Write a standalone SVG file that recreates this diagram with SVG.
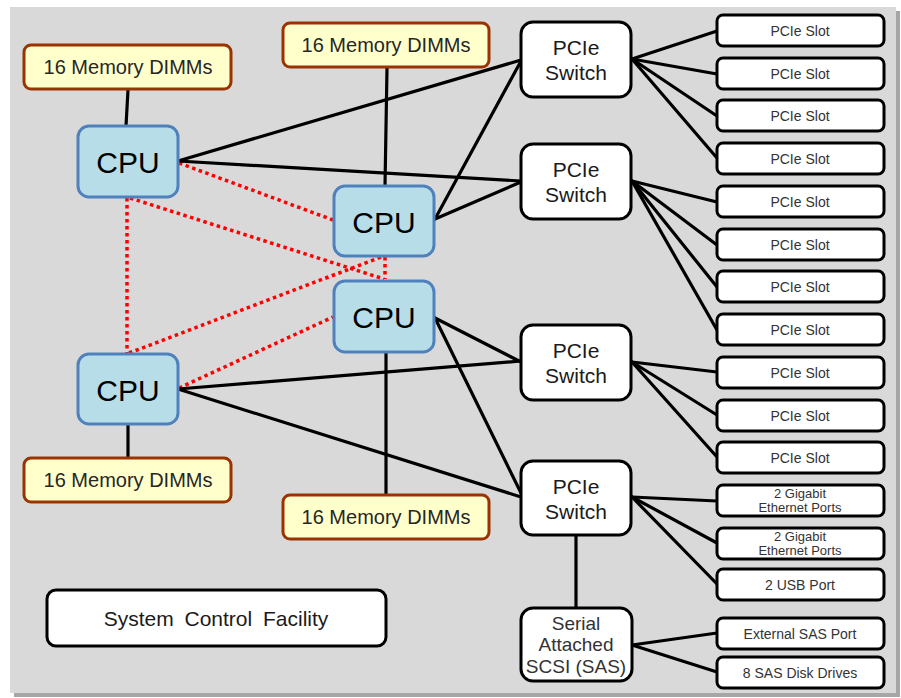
<svg xmlns="http://www.w3.org/2000/svg" width="901" height="698" viewBox="0 0 901 698">
<style>
.cpu rect{fill:#b7dde8;stroke:#4f81bd;stroke-width:3}
.cpu text{font-family:"Liberation Sans",Arial,sans-serif;font-size:30px;fill:#000;text-anchor:middle}
.dimm rect{fill:#ffffcc;stroke:#993300;stroke-width:3}
.dimm text{font-family:"Liberation Sans",Arial,sans-serif;font-size:20px;fill:#262626;text-anchor:middle}
.sw rect{fill:#fff;stroke:#000;stroke-width:3}
.sw text{font-family:"Liberation Sans",Arial,sans-serif;font-size:21px;fill:#1a1a1a;text-anchor:middle}
.slot rect{fill:#fff;stroke:#000;stroke-width:3}
.slot text{font-family:"Liberation Sans",Arial,sans-serif;font-size:14px;fill:#333;text-anchor:middle}
.slot text.sm{font-size:13px}
.scf rect{fill:#fff;stroke:#000;stroke-width:3}
.scf text{font-family:"Liberation Sans",Arial,sans-serif;font-size:21px;fill:#1a1a1a;text-anchor:middle;word-spacing:5px}
.sas rect{fill:#fff;stroke:#000;stroke-width:3}
.sas text{font-family:"Liberation Sans",Arial,sans-serif;font-size:19px;fill:#333;text-anchor:middle}
.bl line{stroke:#000;stroke-width:3.2;stroke-linecap:round}
.rd line{stroke:#ff0000;stroke-width:3.5;stroke-dasharray:3.5 3.5}
</style>
<rect x="14" y="11" width="886" height="686" fill="#a6a6a6"/>
<rect x="10" y="7" width="886" height="686" fill="#d9d9d9"/>
<g id="connectors">
 <g class="rd">
  <line x1="179" y1="163" x2="333" y2="220"/>
  <line x1="127" y1="198" x2="127" y2="353"/>
  <line x1="130" y1="198" x2="384" y2="279"/>
  <line x1="129" y1="353" x2="381" y2="257"/>
  <line x1="385" y1="257" x2="385" y2="279"/>
  <line x1="179" y1="388" x2="333" y2="317"/>
 </g>
 <g class="bl">
  <line x1="128" y1="90" x2="126" y2="126"/>
  <line x1="387" y1="68" x2="385" y2="186"/>
  <line x1="386" y1="353" x2="386" y2="494"/>
  <line x1="128" y1="424" x2="128" y2="458"/>
  <line x1="178" y1="161" x2="521" y2="60"/>
  <line x1="178" y1="161" x2="521" y2="181"/>
  <line x1="435" y1="219" x2="521" y2="61"/>
  <line x1="435" y1="219" x2="521" y2="182"/>
  <line x1="435" y1="318" x2="521" y2="362"/>
  <line x1="435" y1="318" x2="521" y2="493"/>
  <line x1="178" y1="389" x2="521" y2="361"/>
  <line x1="178" y1="389" x2="521" y2="497"/>
  <line x1="632" y1="59" x2="717" y2="31"/>
  <line x1="632" y1="59" x2="717" y2="74"/>
  <line x1="632" y1="59" x2="717" y2="116"/>
  <line x1="632" y1="59" x2="717" y2="158"/>
  <line x1="632" y1="181" x2="717" y2="202"/>
  <line x1="632" y1="181" x2="717" y2="245"/>
  <line x1="632" y1="181" x2="717" y2="287"/>
  <line x1="632" y1="181" x2="717" y2="330"/>
  <line x1="632" y1="362" x2="717" y2="372"/>
  <line x1="632" y1="362" x2="717" y2="415"/>
  <line x1="632" y1="362" x2="717" y2="457"/>
  <line x1="632" y1="497" x2="717" y2="501"/>
  <line x1="632" y1="497" x2="717" y2="543"/>
  <line x1="632" y1="497" x2="717" y2="584"/>
  <line x1="576" y1="535" x2="576" y2="608"/>
  <line x1="632" y1="645" x2="717" y2="633"/>
  <line x1="632" y1="645" x2="717" y2="672"/>
 </g>
</g>
<g id="dimm1" class="dimm"><rect x="24" y="45" width="207" height="44" rx="7"/><text x="128" y="74">16 Memory DIMMs</text></g>
<g id="dimm2" class="dimm"><rect x="283" y="23" width="206" height="44" rx="7"/><text x="386" y="52">16 Memory DIMMs</text></g>
<g id="dimm3" class="dimm"><rect x="24" y="458" width="207" height="44" rx="7"/><text x="128" y="487">16 Memory DIMMs</text></g>
<g id="dimm4" class="dimm"><rect x="283" y="495" width="206" height="44" rx="7"/><text x="386" y="524">16 Memory DIMMs</text></g>
<g id="cpu1" class="cpu"><rect x="78" y="126" width="100" height="71" rx="11"/><text x="128" y="173">CPU</text></g>
<g id="cpu2" class="cpu"><rect x="334" y="186" width="100" height="70" rx="11"/><text x="384" y="233">CPU</text></g>
<g id="cpu3" class="cpu"><rect x="334" y="281" width="100" height="71" rx="11"/><text x="384" y="328">CPU</text></g>
<g id="cpu4" class="cpu"><rect x="78" y="354" width="100" height="70" rx="11"/><text x="128" y="401">CPU</text></g>
<g id="sw1" class="sw"><rect x="521" y="22" width="110" height="75" rx="12"/><text x="576" y="55">PCIe</text><text x="576" y="80">Switch</text></g>
<g id="sw2" class="sw"><rect x="521" y="144" width="110" height="75" rx="12"/><text x="576" y="177">PCIe</text><text x="576" y="202">Switch</text></g>
<g id="sw3" class="sw"><rect x="521" y="325" width="110" height="75" rx="12"/><text x="576" y="358">PCIe</text><text x="576" y="383">Switch</text></g>
<g id="sw4" class="sw"><rect x="521" y="461" width="110" height="74" rx="12"/><text x="576" y="494">PCIe</text><text x="576" y="519">Switch</text></g>
<g id="sas" class="sas"><rect x="521" y="608" width="111" height="73" rx="12"/><text x="576" y="630">Serial</text><text x="576" y="651">Attached</text><text x="576" y="673">SCSI (SAS)</text></g>
<g id="scf" class="scf"><rect x="47" y="590" width="339" height="56" rx="9"/><text x="216" y="626">System Control Facility</text></g>
<g id="slot1" class="slot"><rect x="717" y="15" width="167" height="31" rx="6"/><text x="800" y="36">PCIe Slot</text></g>
<g id="slot2" class="slot"><rect x="717" y="58" width="167" height="31" rx="6"/><text x="800" y="79">PCIe Slot</text></g>
<g id="slot3" class="slot"><rect x="717" y="100" width="167" height="31" rx="6"/><text x="800" y="121">PCIe Slot</text></g>
<g id="slot4" class="slot"><rect x="717" y="143" width="167" height="31" rx="6"/><text x="800" y="164">PCIe Slot</text></g>
<g id="slot5" class="slot"><rect x="717" y="186" width="167" height="31" rx="6"/><text x="800" y="207">PCIe Slot</text></g>
<g id="slot6" class="slot"><rect x="717" y="229" width="167" height="31" rx="6"/><text x="800" y="250">PCIe Slot</text></g>
<g id="slot7" class="slot"><rect x="717" y="271" width="167" height="31" rx="6"/><text x="800" y="292">PCIe Slot</text></g>
<g id="slot8" class="slot"><rect x="717" y="314" width="167" height="31" rx="6"/><text x="800" y="335">PCIe Slot</text></g>
<g id="slot9" class="slot"><rect x="717" y="357" width="167" height="31" rx="6"/><text x="800" y="378">PCIe Slot</text></g>
<g id="slot10" class="slot"><rect x="717" y="400" width="167" height="31" rx="6"/><text x="800" y="421">PCIe Slot</text></g>
<g id="slot11" class="slot"><rect x="717" y="442" width="167" height="31" rx="6"/><text x="800" y="463">PCIe Slot</text></g>
<g id="eth1" class="slot"><rect x="717" y="485" width="167" height="31" rx="6"/><text class="sm" x="800" y="498">2 Gigabit</text><text class="sm" x="800" y="512">Ethernet Ports</text></g>
<g id="eth2" class="slot"><rect x="717" y="528" width="167" height="31" rx="6"/><text class="sm" x="800" y="541">2 Gigabit</text><text class="sm" x="800" y="555">Ethernet Ports</text></g>
<g id="usb" class="slot"><rect x="717" y="569" width="167" height="31" rx="6"/><text x="800" y="590">2 USB Port</text></g>
<g id="extsas" class="slot"><rect x="717" y="618" width="167" height="31" rx="6"/><text x="800" y="639">External SAS Port</text></g>
<g id="sasdisk" class="slot"><rect x="717" y="657" width="167" height="31" rx="6"/><text x="800" y="678">8 SAS Disk Drives</text></g>
</svg>
